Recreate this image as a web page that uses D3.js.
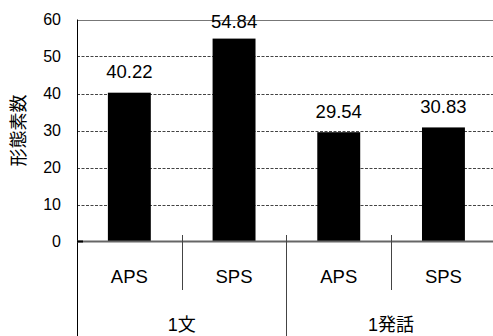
<!DOCTYPE html>
<html>
<head>
<meta charset="utf-8">
<script src="https://d3js.org/d3.v7.min.js"></script>
<style>
body { margin:0; background:#fff; }
text { font-family: "Liberation Sans", Arial, sans-serif; fill:#000; }
</style>
</head>
<body>
<script>
let groups = ["1文", "1発話"]
let categories = ["APS", "SPS"]
let values = [40.22, 54.84, 29.54, 30.83]
let yTicks = [0, 10, 20, 30, 40, 50, 60]
let yTitle = "形態素数"

let w = 493
let h = 336
let plotLeft = 77
let plotW = 418.8
let plotTop = 19.5
let plotBottom = 241.5

let bars = []
groups.forEach((g, gi)=>{
    categories.forEach((c, ci)=>{
        bars.push({group: g, cat: c, key: g + "|" + c, value: values[gi * categories.length + ci]})
    })
})

let svg = d3.select("body")
    .append("svg")
    .attr("width", w)
    .attr("height", h)

let x = d3.scaleBand()
    .domain(bars.map(d => d.key))
    .range([plotLeft, plotLeft + plotW])
    .paddingInner(0.59)
    .paddingOuter(0.295)

let xGroup = d3.scaleBand()
    .domain(groups)
    .range([plotLeft, plotLeft + plotW])

let y = d3.scaleLinear()
    .domain([0, 60])
    .range([plotBottom, plotTop])

// grid
svg.append("g")
    .selectAll("line")
    .data(yTicks.filter(t => t > 0 && t < 60))
    .enter().append("line")
    .attr("x1", plotLeft)
    .attr("x2", plotLeft + plotW)
    .attr("y1", d => Math.round(y(d)) + 0.5)
    .attr("y2", d => Math.round(y(d)) + 0.5)
    .attr("stroke", "#444")
    .attr("stroke-width", 1)
    .attr("stroke-dasharray", "3,1.5")

svg.append("line")
    .attr("x1", plotLeft)
    .attr("x2", plotLeft + plotW)
    .attr("y1", Math.round(y(60)) + 0.5)
    .attr("y2", Math.round(y(60)) + 0.5)
    .attr("stroke", "#777")

// bars
svg.append("g")
    .selectAll("rect")
    .data(bars)
    .enter().append("rect")
    .attr("x", d => x(d.key))
    .attr("y", d => y(d.value))
    .attr("width", x.bandwidth())
    .attr("height", d => y(0) - y(d.value))
    .attr("fill", "#000")

svg.append("g")
    .selectAll("text")
    .data(bars)
    .enter().append("text")
    .attr("x", d => x(d.key) + x.bandwidth() / 2)
    .attr("y", d => Math.max(y(d.value) - 14.5, 28))
    .attr("text-anchor", "middle")
    .style("font-size", "18.5px")
    .text(d => d.value.toFixed(2))

// y axis
svg.append("line")
    .attr("x1", plotLeft + 0.5)
    .attr("x2", plotLeft + 0.5)
    .attr("y1", plotTop)
    .attr("y2", h)
    .attr("stroke", "#000")

svg.append("g")
    .selectAll("text")
    .data(yTicks)
    .enter().append("text")
    .attr("x", 61)
    .attr("y", d => y(d))
    .attr("dy", "0.36em")
    .attr("text-anchor", "end")
    .style("font-size", "16px")
    .text(d => d)

svg.append("text")
    .attr("transform", "translate(" + 25 + "," + ((plotTop + plotBottom) / 2) + ") rotate(-90)")
    .attr("text-anchor", "middle")
    .style("font-family", "'Noto Sans CJK JP', sans-serif")
    .style("font-size", "18px")
    .text(yTitle)

// x axis
svg.append("line")
    .attr("x1", plotLeft)
    .attr("x2", plotLeft + plotW)
    .attr("y1", y(0))
    .attr("y2", y(0))
    .attr("stroke", "#666")
    .attr("stroke-width", 2)

svg.append("line")
    .attr("x1", plotLeft)
    .attr("x2", plotLeft + 6)
    .attr("y1", y(0))
    .attr("y2", y(0))
    .attr("stroke", "#000")
    .attr("stroke-width", 2)

let step = x.step()
let seps = d3.range(1, bars.length).map(i => ({x: plotLeft + x.paddingOuter() * step - x.paddingInner() * step / 2 + i * step, groupEdge: i % categories.length === 0}))

svg.append("g")
    .selectAll("line")
    .data(seps)
    .enter().append("line")
    .attr("x1", d => Math.round(d.x) + 0.5)
    .attr("x2", d => Math.round(d.x) + 0.5)
    .attr("y1", 235)
    .attr("y2", d => d.groupEdge ? h : 290)
    .attr("stroke", "#444")

svg.append("g")
    .selectAll("text")
    .data(bars)
    .enter().append("text")
    .attr("x", d => x(d.key) + x.bandwidth() / 2)
    .attr("y", 283)
    .attr("text-anchor", "middle")
    .style("font-size", "18.5px")
    .text(d => d.cat)

svg.append("g")
    .selectAll("text")
    .data(groups)
    .enter().append("text")
    .attr("x", d => xGroup(d) + xGroup.bandwidth() / 2)
    .attr("y", 331)
    .attr("text-anchor", "middle")
    .style("font-family", "'Liberation Sans', 'Noto Sans CJK JP', sans-serif")
    .style("font-size", "18px")
    .text(d => d)
</script>
</body>
</html>
